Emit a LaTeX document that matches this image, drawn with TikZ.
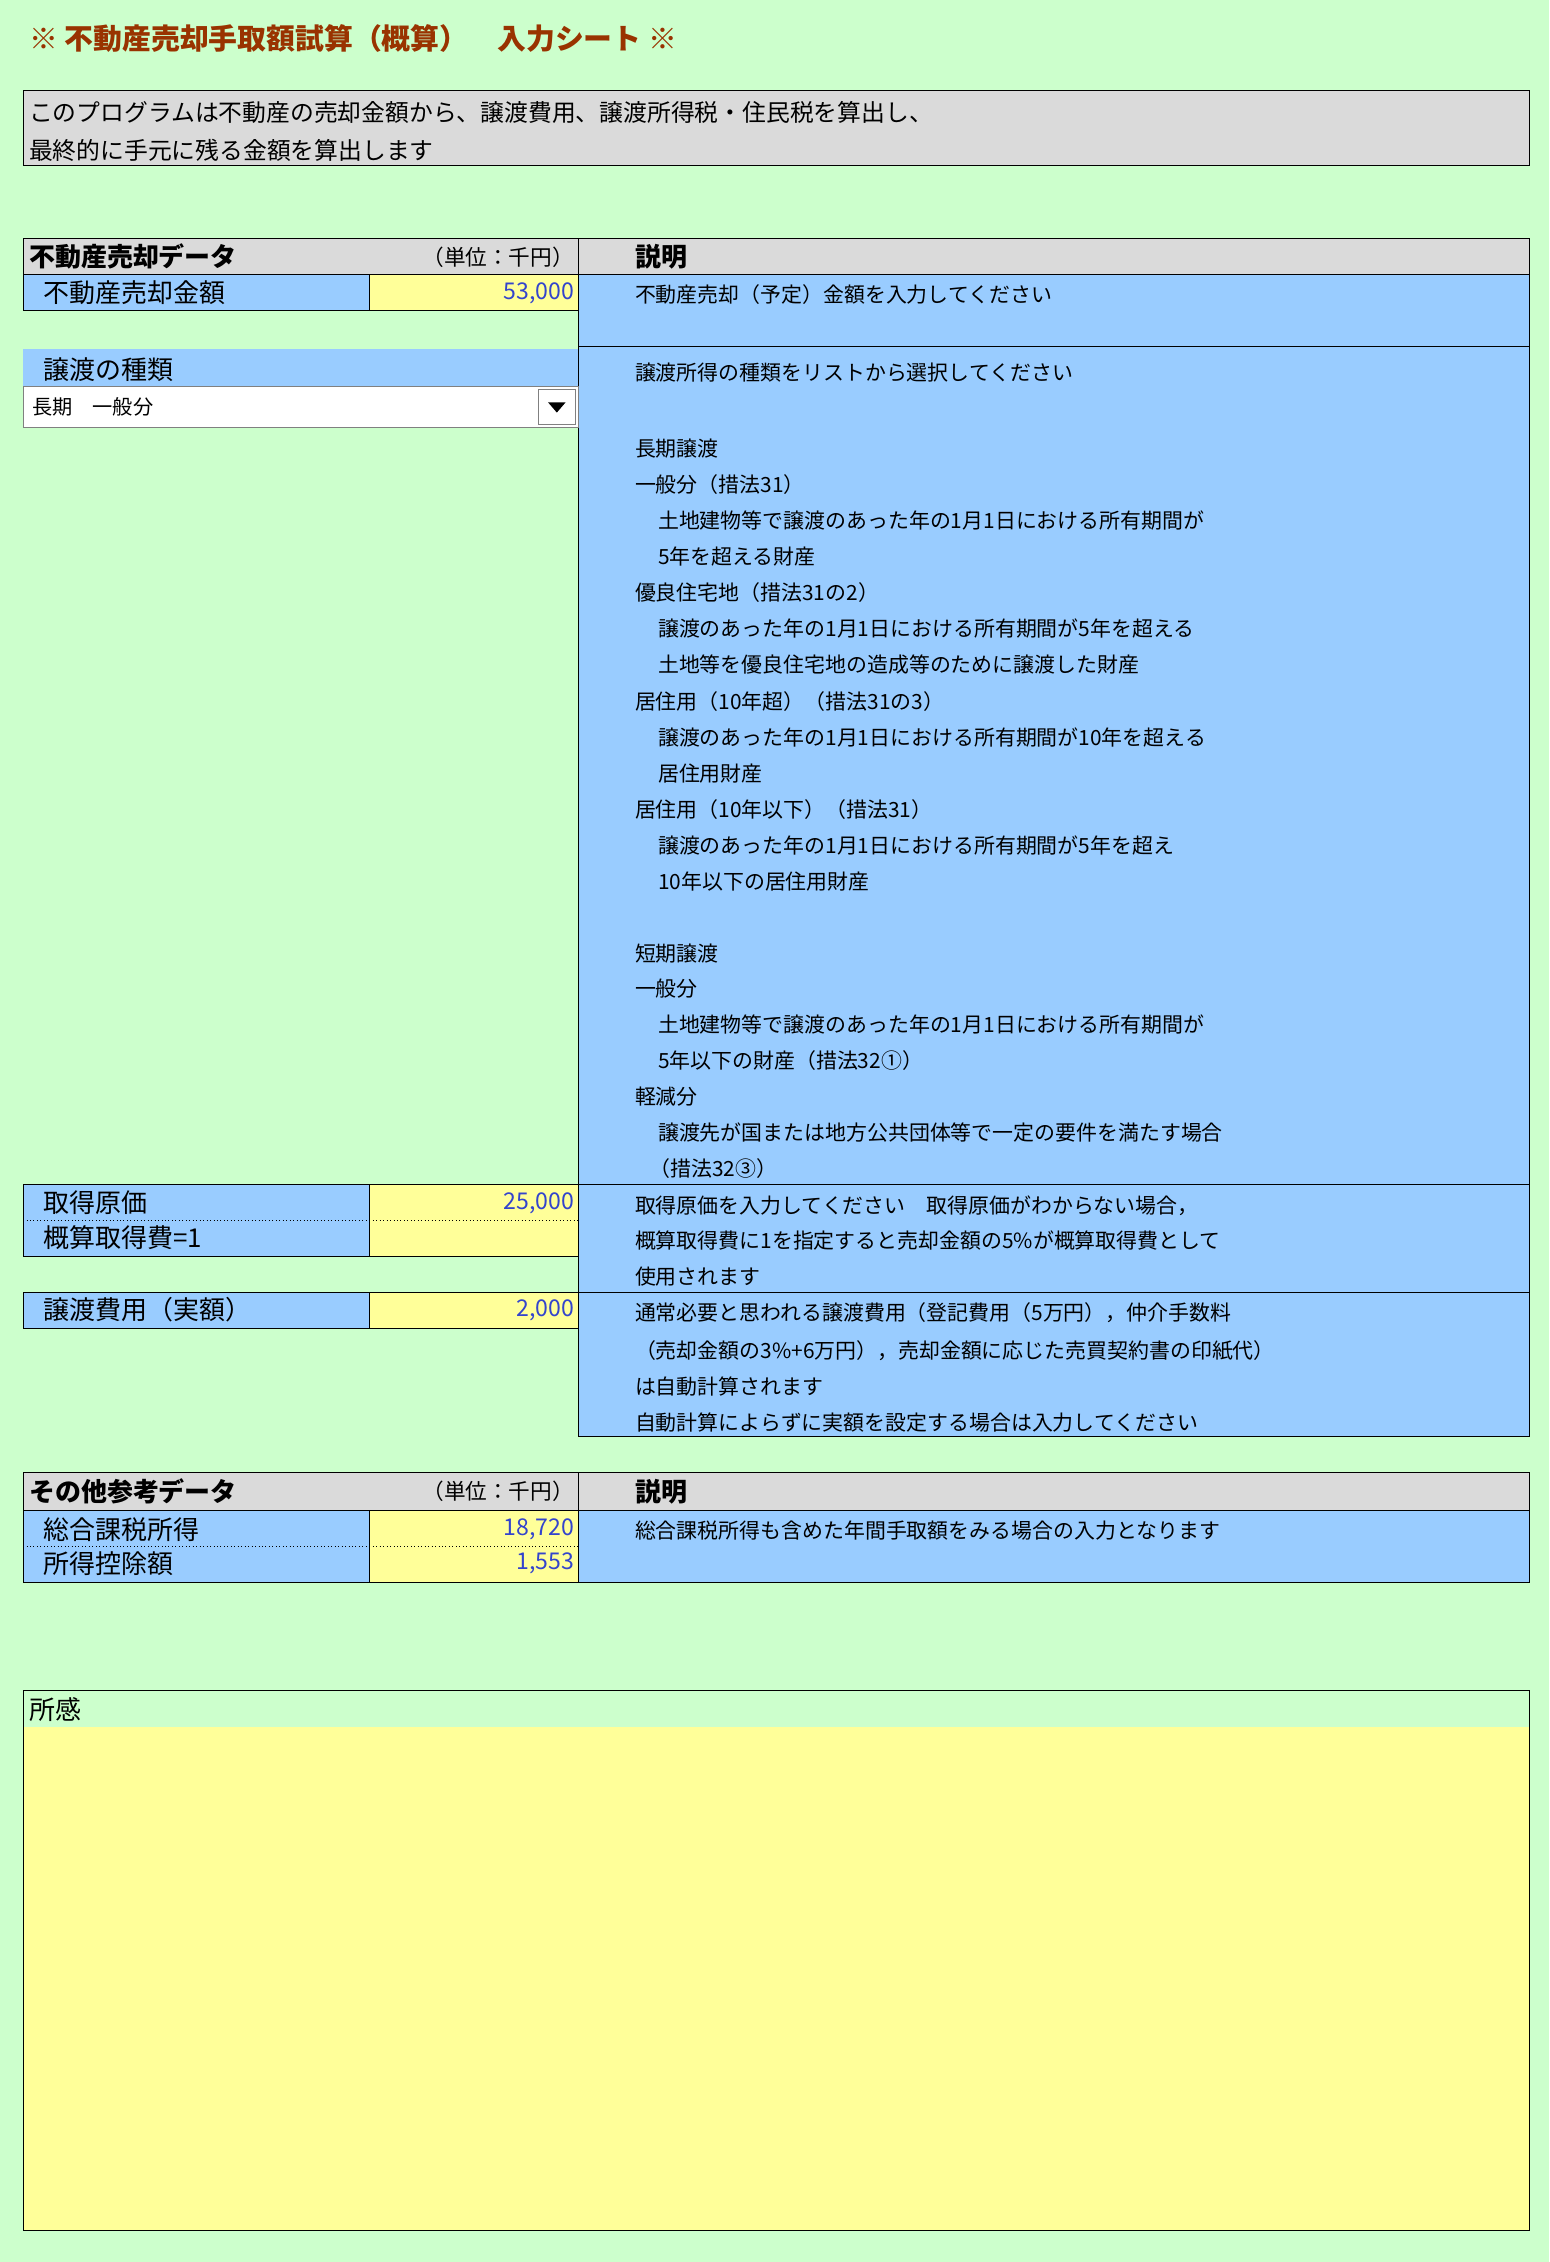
\documentclass[tikz,border=0pt]{standalone}
\usepackage{fontspec}
\setmainfont{Noto Sans CJK JP}
\usetikzlibrary{positioning}
\definecolor{bggreen}{HTML}{CCFFCC}
\definecolor{cellblue}{HTML}{99CCFF}
\definecolor{cellyellow}{HTML}{FFFF99}
\definecolor{cellgray}{HTML}{DADADA}
\definecolor{titlered}{HTML}{993300}
\definecolor{valblue}{HTML}{3344CC}
\tikzset{
  cell/.style={draw=black, line width=0.6pt},
  lbl/.style={anchor=west, inner sep=0pt, font=\fontsize{18}{20}\selectfont},
  hdr/.style={anchor=west, inner sep=0pt, font=\fontsize{18}{20}\selectfont\bfseries},
  val/.style={anchor=east, inner sep=0pt, text=valblue, font=\fontsize{16}{18}\selectfont},
  note/.style={anchor=west, inner sep=0pt, font=\fontsize{14.5}{16}\selectfont},
}
\begin{document}
\begin{tikzpicture}[x=1pt,y=-1pt]
\useasboundingbox (0,0) rectangle (1074,1568);
\fill[bggreen] (0,0) rectangle (1074,1568);

% title and intro
\node[anchor=west, inner sep=0pt, text=titlered, font=\fontsize{20}{22}\selectfont\bfseries] (title) at (20,27) {※\ 不動産売却手取額試算（概算）\quad 入力シート\ ※};
\fill[cellgray] (16,63) rectangle (1060,115);
\draw[cell] (16,63) rectangle (1060,115);
\node[lbl, font=\fontsize{16.5}{18}\selectfont] (intro1) at (20,78) {このプログラムは不動産の売却金額から、譲渡費用、譲渡所得税・住民税を算出し、};
\node[lbl, font=\fontsize{16.5}{18}\selectfont] (intro2) at (20,104) {最終的に手元に残る金額を算出します};

% sale data
\fill[cellgray] (16,165) rectangle (1060,190);
\draw[cell] (16,165) rectangle (401,190) (401,165) rectangle (1060,190);
\node[hdr] (salehead) at (20,178) {不動産売却データ};
\node[anchor=east, inner sep=0pt, font=\fontsize{15}{17}\selectfont] (saleunit) at (398,178) {（単位：千円）};
\node[hdr] (salenote) at (440,178) {説明};
\fill[cellblue] (16,190) rectangle (256,215);
\fill[cellyellow] (256,190) rectangle (401,215);
\draw[cell] (16,190) rectangle (256,215) (256,190) rectangle (401,215);
\node[lbl] (price) at (30,203) {不動産売却金額};
\node[val] (priceval) at (398,203) {53,000};
\fill[cellblue] (401,190) rectangle (1060,240);
\draw[cell] (401,190) rectangle (1060,240);
\node[note] (pricenote) at (440,204) {不動産売却（予定）金額を入力してください};

% transfer type
\fill[cellblue] (401,240) rectangle (1060,821);
\draw[cell] (401,240) rectangle (1060,821);
\fill[cellblue] (16,242) rectangle (401,268);
\node[lbl] (kind) at (30,256) {譲渡の種類};
\fill[white] (16,268) rectangle (401,296);
\draw[gray] (16,268) rectangle (401,296);
\node[note, font=\fontsize{14}{16}\selectfont] (kindval) at (22,282) {長期\quad 一般分};
\draw[gray] (373,270) rectangle (399,294);
\fill[black] (380,279) -- (392,279) -- (386,286) -- cycle;
\foreach \txt/\yy/\xx [count=\i] in {
  {譲渡所得の種類をリストから選択してください}/258/440,
  {長期譲渡}/311/440,
  {一般分（措法31）}/336/440,
  {土地建物等で譲渡のあった年の1月1日における所有期間が}/361/456,
  {5年を超える財産}/386/456,
  {優良住宅地（措法31の2）}/411/440,
  {譲渡のあった年の1月1日における所有期間が5年を超える}/436/456,
  {土地等を優良住宅地の造成等のために譲渡した財産}/461/456,
  {居住用（10年超）（措法31の3）}/486/440,
  {譲渡のあった年の1月1日における所有期間が10年を超える}/511/456,
  {居住用財産}/536/456,
  {居住用（10年以下）（措法31）}/561/440,
  {譲渡のあった年の1月1日における所有期間が5年を超え}/586/456,
  {10年以下の居住用財産}/611/456,
  {短期譲渡}/661/440,
  {一般分}/685/440,
  {土地建物等で譲渡のあった年の1月1日における所有期間が}/710/456,
  {5年以下の財産（措法32①）}/735/456,
  {軽減分}/760/440,
  {譲渡先が国または地方公共団体等で一定の要件を満たす場合}/785/456,
  {（措法32③）}/810/450}
  \node[note] (kindnote\i) at (\xx,\yy) {\txt};

% acquisition cost
\fill[cellblue] (16,821) rectangle (256,871);
\fill[cellyellow] (256,821) rectangle (401,871);
\draw[cell] (16,821) rectangle (256,871) (256,821) rectangle (401,871);
\draw[dotted] (16,846) -- (401,846);
\node[lbl] (cost) at (30,834) {取得原価};
\node[val] (costval) at (398,834) {25,000};
\node[lbl] (est) at (30,858) {概算取得費=1};
\fill[cellblue] (401,821) rectangle (1060,896);
\draw[cell] (401,821) rectangle (1060,896);
\node[note] (costnote1) at (440,836) {取得原価を入力してください\quad 取得原価がわからない場合，};
\node[note] (costnote2) at (440,860) {概算取得費に1を指定すると売却金額の5\%が概算取得費として};
\node[note] (costnote3) at (440,885) {使用されます};

% transfer expenses
\fill[cellblue] (16,896) rectangle (256,921);
\fill[cellyellow] (256,896) rectangle (401,921);
\draw[cell] (16,896) rectangle (256,921) (256,896) rectangle (401,921);
\node[lbl] (expense) at (30,908) {譲渡費用（実額）};
\node[val] (expenseval) at (398,908) {2,000};
\fill[cellblue] (401,896) rectangle (1060,996);
\draw[cell] (401,896) rectangle (1060,996);
\node[note] (expnote1) at (440,910) {通常必要と思われる譲渡費用（登記費用（5万円），仲介手数料};
\node[note] (expnote2) at (440,936) {（売却金額の3\%+6万円），売却金額に応じた売買契約書の印紙代）};
\node[note] (expnote3) at (440,961) {は自動計算されます};
\node[note] (expnote4) at (440,986) {自動計算によらずに実額を設定する場合は入力してください};

% other data
\fill[cellgray] (16,1021) rectangle (1060,1047);
\draw[cell] (16,1021) rectangle (401,1047) (401,1021) rectangle (1060,1047);
\node[hdr] (otherhead) at (20,1034) {その他参考データ};
\node[anchor=east, inner sep=0pt, font=\fontsize{15}{17}\selectfont] (otherunit) at (398,1034) {（単位：千円）};
\node[hdr] (othernote) at (440,1034) {説明};
\fill[cellblue] (16,1047) rectangle (256,1097);
\fill[cellyellow] (256,1047) rectangle (401,1097);
\draw[cell] (16,1047) rectangle (256,1097) (256,1047) rectangle (401,1097);
\draw[dotted] (16,1072) -- (401,1072);
\node[lbl] (income) at (30,1060) {総合課税所得};
\node[val] (incomeval) at (398,1060) {18,720};
\node[lbl] (deduct) at (30,1084) {所得控除額};
\node[val] (deductval) at (398,1084) {1,553};
\fill[cellblue] (401,1047) rectangle (1060,1097);
\draw[cell] (401,1047) rectangle (1060,1097);
\node[note] (incomenote) at (440,1061) {総合課税所得も含めた年間手取額をみる場合の入力となります};

% remarks
\fill[cellyellow] (16,1197) rectangle (1060,1546);
\draw[cell] (16,1172) rectangle (1060,1546);
\node[lbl] (remark) at (20,1185) {所感};
\end{tikzpicture}
\end{document}
